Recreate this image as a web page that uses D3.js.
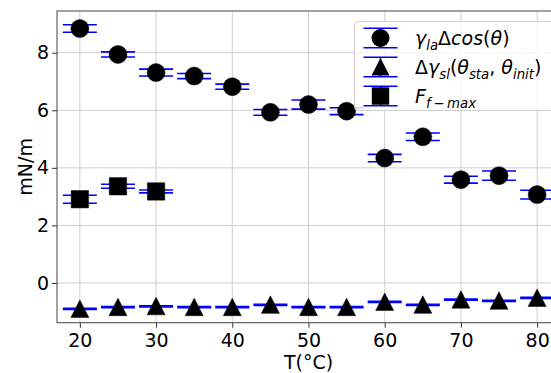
<!DOCTYPE html>
<html>
<head>
  <script src="https://cdnjs.cloudflare.com/ajax/libs/d3/7.8.5/d3.min.js"></script>
  <style>
    body { margin: 0; background: #fff; }
    svg { display: block; font-family: "DejaVu Sans", sans-serif; }
  </style>
</head>
<body>
<div id="chart"></div>
<script>
// ---- data ----
var temps = [20, 25, 30, 35, 40, 45, 50, 55, 60, 65, 70, 75, 80];
var cosVals = [8.84, 7.94, 7.31, 7.19, 6.82, 5.93, 6.20, 5.97, 4.34, 5.08, 3.59, 3.73, 3.07];
var cosErr  = [0.13, 0.09, 0.12, 0.09, 0.09, 0.10, 0.16, 0.12, 0.13, 0.13, 0.12, 0.16, 0.15];
var slVals  = [-0.90, -0.84, -0.81, -0.84, -0.84, -0.76, -0.84, -0.84, -0.66, -0.76, -0.58, -0.62, -0.52];
var slErr   = [0.02, 0.02, 0.02, 0.02, 0.02, 0.02, 0.02, 0.02, 0.02, 0.02, 0.02, 0.02, 0.02];
var ffTemps = [20, 25, 30];
var ffVals  = [2.91, 3.36, 3.18];
var ffErr   = [0.14, 0.07, 0.05];
var xTicks = [20, 30, 40, 50, 60, 70, 80];
var yTicks = [0, 2, 4, 6, 8];

var width = 551, height = 373;
var svg = d3.select('#chart').append('svg')
    .attr('width', width)
    .attr('height', height);

//----------------------------------------
// scales
var x = d3.scaleLinear().domain([17, 83]).range([57, 560]);
var y = d3.scaleLinear().domain([-1.38, 9.45]).range([322.7, 11]);

var fs = 19;
var blue = '#0000ff';

//----------------------------------------
// grid
svg.append('g').selectAll('line')
    .data(xTicks).enter().append('line')
    .attr('x1', d => x(d)).attr('x2', d => x(d))
    .attr('y1', y.range()[1]).attr('y2', y.range()[0])
    .style('stroke', '#cfcfcf').style('stroke-width', 1);
svg.append('g').selectAll('line')
    .data(yTicks).enter().append('line')
    .attr('x1', x.range()[0]).attr('x2', x.range()[1])
    .attr('y1', d => y(d)).attr('y2', d => y(d))
    .style('stroke', '#cfcfcf').style('stroke-width', 1);

//----------------------------------------
// axes
var xAxis = svg.append('g')
    .attr('transform', 'translate(0,' + y.range()[0] + ')')
    .call(d3.axisBottom(x).tickValues(xTicks).tickSize(5).tickPadding(6));
var yAxis = svg.append('g')
    .attr('transform', 'translate(' + x.range()[0] + ',0)')
    .call(d3.axisLeft(y).tickValues(yTicks).tickSize(5).tickPadding(3));
[xAxis, yAxis].forEach(function(a) {
    a.select('.domain').remove();
    a.selectAll('text').style('font-size', fs + 'px').style('fill', '#000')
        .style('font-family', '"DejaVu Sans", sans-serif');
    a.selectAll('line').style('stroke', '#333');
});

// spines (left, bottom, top)
svg.append('rect')
    .attr('x', x.range()[0]).attr('y', y.range()[1])
    .attr('width', x.range()[1] - x.range()[0])
    .attr('height', y.range()[0] - y.range()[1])
    .style('fill', 'none').style('stroke', '#444').style('stroke-width', 1);

// labels
svg.append('text')
    .attr('x', (x.range()[0] + x.range()[1]) / 2)
    .attr('y', 369)
    .attr('text-anchor', 'middle')
    .style('font-size', fs + 'px')
    .text('T(°C)');
svg.append('text')
    .attr('transform', 'translate(32,' + ((y.range()[0] + y.range()[1]) / 2) + ') rotate(-90)')
    .attr('text-anchor', 'middle')
    .style('font-size', fs + 'px')
    .text('mN/m');

//----------------------------------------
// error bars + markers
var plot = svg.append('g');
var capHalf = 17;

function errorSeries(xs, vals, errs, shape) {
    var rows = xs.map(function(t, i) { return {t: t, v: vals[i], e: errs[i]}; });
    var g = plot.append('g');
    g.selectAll('.v').data(rows).enter().append('line')
        .attr('x1', d => x(d.t)).attr('x2', d => x(d.t))
        .attr('y1', d => y(d.v - d.e)).attr('y2', d => y(d.v + d.e))
        .style('stroke', blue).style('stroke-width', 1.5);
    [-1, 1].forEach(function(s) {
        g.selectAll('.c' + s).data(rows).enter().append('line')
            .attr('x1', d => x(d.t) - capHalf).attr('x2', d => x(d.t) + capHalf)
            .attr('y1', d => y(d.v + s * d.e)).attr('y2', d => y(d.v + s * d.e))
            .style('stroke', blue).style('stroke-width', 1.6);
    });
    g.selectAll('.m').data(rows).enter().append('path')
        .attr('transform', d => 'translate(' + x(d.t) + ',' + y(d.v) + ')')
        .attr('d', shape)
        .style('fill', '#000').style('stroke', '#000').style('stroke-width', 0.5);
}

var circle = d3.symbol().type(d3.symbolCircle).size(Math.PI * 9 * 9)();
var triangle = 'M0,-9L9,8.5L-9,8.5Z';
var square = 'M-8.7,-8.7H8.7V8.7H-8.7Z';

errorSeries(temps, cosVals, cosErr, circle);
errorSeries(temps, slVals, slErr, triangle);
errorSeries(ffTemps, ffVals, ffErr, square);

//----------------------------------------
// legend
var leg = svg.append('g');
leg.append('rect')
    .attr('x', 354.5).attr('y', 21.5)
    .attr('width', 210).attr('height', 89)
    .attr('rx', 4)
    .style('fill', '#fff').style('fill-opacity', 0.8)
    .style('stroke', '#d0d0d0').style('stroke-width', 1);

var legRows = [
    {y: 38, shape: circle},
    {y: 67, shape: triangle},
    {y: 96, shape: square}
];
var lx = 380.5;
legRows.forEach(function(r) {
    [-9.7, 9.7].forEach(function(o) {
        leg.append('line')
            .attr('x1', lx - 17).attr('x2', lx + 17)
            .attr('y1', r.y + o).attr('y2', r.y + o)
            .style('stroke', blue).style('stroke-width', 1.6);
    });
    leg.append('line')
        .attr('x1', lx).attr('x2', lx)
        .attr('y1', r.y - 9.7).attr('y2', r.y + 9.7)
        .style('stroke', blue).style('stroke-width', 1.5);
    leg.append('path')
        .attr('transform', 'translate(' + lx + ',' + r.y + ')')
        .attr('d', r.shape)
        .style('fill', '#000');
});

// mathtext-ish labels: [text, italic, sub]
var labels = [
    [['γ', 1, 0], ['la', 1, 1], ['Δ', 0, 0], ['cos', 1, 0], ['(', 0, 0], ['θ', 1, 0], [')', 0, 0]],
    [['Δ', 0, 0], ['γ', 1, 0], ['sl', 1, 1], ['(', 0, 0], ['θ', 1, 0], ['sta', 1, 1], [', ', 0, 0], ['θ', 1, 0], ['init', 1, 1], [')', 0, 0]],
    [['F', 1, 0], ['f\u2009\u2212\u2009max', 1, 1]]
];
labels.forEach(function(parts, i) {
    var t = leg.append('text')
        .attr('x', 415)
        .attr('y', legRows[i].y + 6.5)
        .style('font-size', fs + 'px');
    var prevSub = 0;
    parts.forEach(function(p) {
        var dy = (p[2] - prevSub) * 5;
        prevSub = p[2];
        t.append('tspan')
            .attr('dy', dy)
            .style('font-style', p[1] ? 'italic' : 'normal')
            .style('font-size', p[2] ? (fs * 0.7) + 'px' : fs + 'px')
            .text(p[0]);
    });
});
</script>
</body>
</html>
